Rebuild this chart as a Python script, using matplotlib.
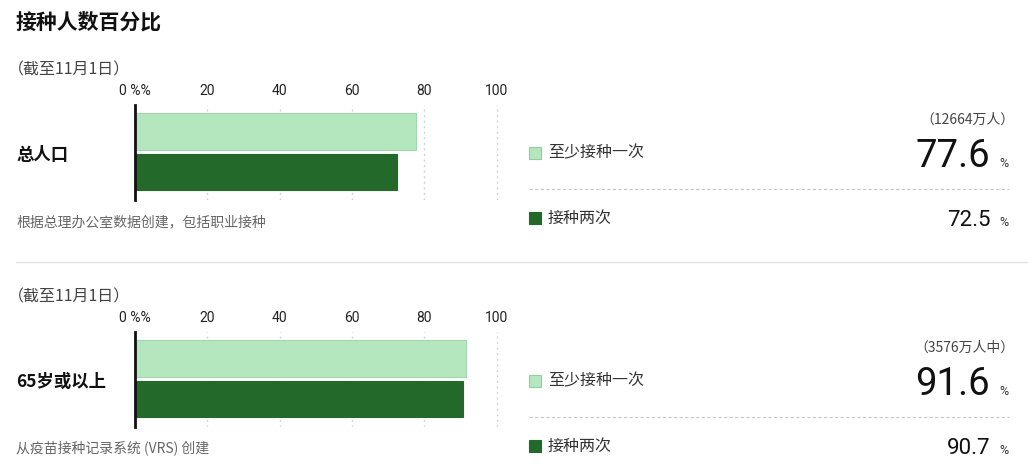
import matplotlib
matplotlib.use('Agg')
import matplotlib.pyplot as plt
from matplotlib.patches import Rectangle
from matplotlib.lines import Line2D

plt.rcParams['font.family'] = ['Noto Sans CJK SC', 'DejaVu Sans']
NUM_FONT = ['Roboto', 'DejaVu Sans']

# data
title = '接种人数百分比'
categories = ['总人口', '65岁或以上']
series_names = ['至少接种一次', '接种两次']
dose_one = [77.6, 91.6]
dose_two = [72.5, 90.7]
population = ['（12664万人）', '（3576万人中）']
as_of = ['（截至11月1日）', '（截至11月1日）']
notes = ['根据总理办公室数据创建，包括职业接种', '从疫苗接种记录系统 (VRS) 创建']
ticks = [0, 20, 40, 60, 80, 100]
tick_labels = ['0 %%', '20', '40', '60', '80', '100']

light = '#b5e7bf'
dark = '#22692a'

W, H = 1028, 471
fig = plt.figure(figsize=(W / 100, H / 100), dpi=100)


def fx(x):
    return x / W


def fy(y):
    return 1 - y / H


fig.text(fx(16), fy(22), title, fontsize=15, fontweight='bold', color='#111', va='center')

# separator between the two panels
fig.add_artist(Line2D([fx(16), 1], [fy(262), fy(262)], color='#e2e2e2', lw=1))

for i, cat in enumerate(categories):
    off = 227 * i

    fig.text(fx(8), fy(70 + off), as_of[i], fontsize=11.5, color='#444', va='center')
    fig.text(fx(16), fy(155 + off), cat, fontsize=12.5, fontweight='bold', color='#111', va='center')
    fig.text(fx(16), fy(222 + off), notes[i], fontsize=10, color='#666', va='center')

    # bar axes: x=0 at px 135, x=100 at px 497
    top, bottom = 105 + off, 200 + off
    ax = fig.add_axes([fx(135), fy(bottom), 364 / W, (bottom - top) / H])
    ax.barh([0, 1], [dose_one[i], dose_two[i]], height=0.91,
            color=[light, dark], edgecolor=['#a2d6ac', dark], linewidth=0.8, zorder=3)
    ax.set_xlim(0, 100.6)
    ax.set_ylim(1.69, -0.654)
    ax.set_yticks([])
    ax.set_xticks(ticks)
    ax.set_xticklabels(tick_labels, fontfamily=NUM_FONT, fontsize=10, color='#222')
    ax.xaxis.tick_top()
    ax.tick_params(axis='x', length=0, pad=5)
    ax.grid(axis='x', color='#d4d4d4', linestyle=(0, (1.5, 2.5)), lw=1, zorder=0)
    for s in ['top', 'right', 'bottom']:
        ax.spines[s].set_visible(False)
    ax.spines['left'].set_color('#111')
    ax.spines['left'].set_linewidth(2)
    ax.spines['left'].set_zorder(4)
    ax.patch.set_alpha(0)

    # right-hand summary
    roff = 228 * i
    fig.text(fx(1015), fy(120 + roff), population[i], fontsize=10, color='#444', ha='right', va='center')

    for j, (name, val, col, edge) in enumerate([(series_names[0], dose_one[i], light, '#8fcf9b'),
                                                 (series_names[1], dose_two[i], dark, dark)]):
        yc = 153 + roff + 65 * j
        fig.add_artist(Rectangle((fx(529), fy(yc + 6)), 12 / W, 12 / H, facecolor=col,
                                 edgecolor=edge, lw=0.8, transform=fig.transFigure))
        fig.text(fx(548), fy(yc), name, fontsize=11.5, color='#333', va='center')
        if j == 0:
            base = yc + 14
            fig.text(fx(990), fy(base), f'{val:.1f}', fontsize=27.5, fontfamily=NUM_FONT,
                     color='#111', ha='right', va='baseline')
        else:
            base = yc + 8
            fig.text(fx(991), fy(base), f'{val:.1f}', fontsize=16, fontfamily=NUM_FONT,
                     color='#111', ha='right', va='baseline')
        fig.text(fx(1009), fy(base), '%', fontsize=9, fontfamily=NUM_FONT,
                 color='#333', ha='right', va='baseline')

    fig.add_artist(Line2D([fx(529), fx(1009)], [fy(189 + roff), fy(189 + roff)],
                          color='#c8c8c8', lw=0.8, linestyle=(0, (3, 2))))

fig.savefig('out.png', dpi=100, facecolor='white')
